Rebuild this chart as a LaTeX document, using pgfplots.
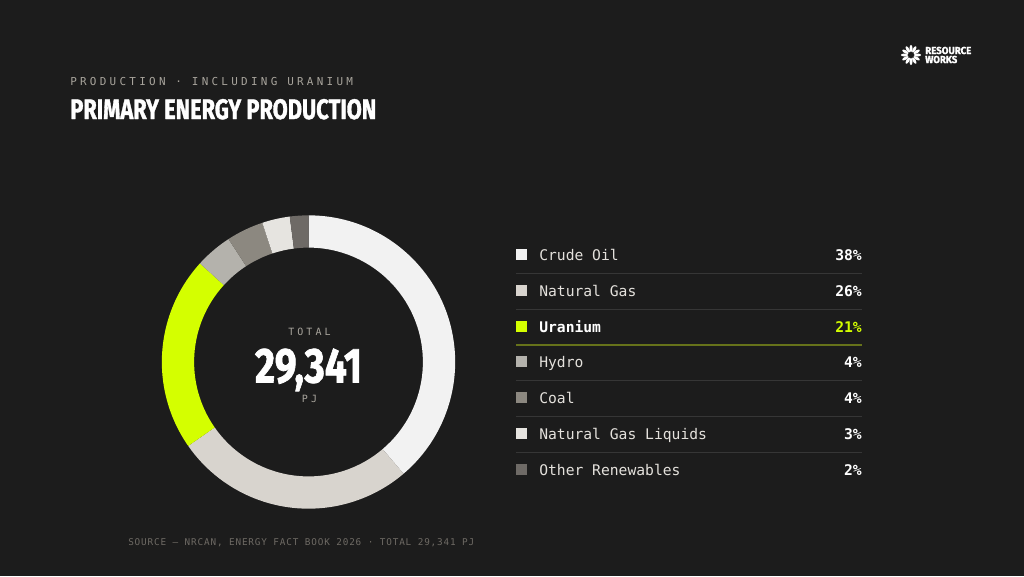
\documentclass[border=0pt]{standalone}
\usepackage{pgfplots}
\pgfplotsset{compat=1.18}
\usepackage{pgfplotstable}
\usepackage{fontspec}
\usepackage{graphicx}
\setmainfont{DejaVu Sans Mono}
\newfontfamily\monofont{DejaVu Sans Mono}
\newfontfamily\spacedmono[LetterSpace=30]{DejaVu Sans Mono}
\newfontfamily\srcmono[LetterSpace=9]{DejaVu Sans Mono}
\newfontfamily\condfont[FakeBold=1.5]{Fira Sans}

\definecolor{bg}{HTML}{1C1C1C}
\definecolor{c0}{HTML}{F2F2F2}
\definecolor{c1}{HTML}{D8D4CE}
\definecolor{c2}{HTML}{D4FF00}
\definecolor{c3}{HTML}{B4B2AC}
\definecolor{c4}{HTML}{8C8880}
\definecolor{c5}{HTML}{E6E4E0}
\definecolor{c6}{HTML}{6E6A66}
\definecolor{subgray}{HTML}{A8A49C}
\definecolor{srcgray}{HTML}{6E6A64}
\definecolor{labgray}{HTML}{E4E1DC}
\definecolor{sepgray}{HTML}{363636}
\definecolor{sepolive}{HTML}{66721A}

\pgfplotstableread{
label value
CrudeOil 38
NaturalGas 26
Uranium 21
Hydro 4
Coal 4
NGL 3
Other 2
}\energydata

\begin{document}
\begin{tikzpicture}[x=0.75pt,y=-0.75pt]
\fill[bg] (0,0) rectangle (1024,576);

% header
\node[anchor=base west, inner sep=0, text=subgray, font=\spacedmono\fontsize{8.2pt}{10pt}\selectfont] at (70,85.5) {PRODUCTION · INCLUDING URANIUM};
\node[anchor=base west, inner sep=0, text=white] at (70,119) {\resizebox{229.5pt}{15pt}{\condfont\bfseries PRIMARY ENERGY PRODUCTION}};

% logo
\foreach \a in {0,30,...,330}{
  \fill[white, rotate around={\a:(911,55)}] (911,48.5) ellipse (1.5 and 3.6);
}
\fill[bg] (911,55) circle (2.2);
\node[anchor=base west, inner sep=0, text=white] at (925,54) {\resizebox{34.5pt}{5.4pt}{\condfont\bfseries RESOURCE}};
\node[anchor=base west, inner sep=0, text=white] at (925,63) {\resizebox{24pt}{5.4pt}{\condfont\bfseries WORKS}};

% donut
\begin{axis}[at={(231.375pt,-271.5pt)}, anchor=center, width=220pt, height=220pt, scale only axis,
  xmin=-1, xmax=1, ymin=-1, ymax=1, hide axis, clip=false]
  \pgfmathsetmacro\total{0}
  \pgfplotsforeachungrouped \i in {0,...,6}{
    \pgfplotstablegetelem{\i}{value}\of\energydata
    \pgfmathsetmacro\total{\total+\pgfplotsretval}
  }
  \pgfmathsetmacro\cum{0}
  \pgfplotsforeachungrouped \i in {0,...,6}{
    \pgfplotstablegetelem{\i}{value}\of\energydata
    \pgfmathsetmacro\aS{90-\cum/\total*360}
    \pgfmathsetmacro\cum{\cum+\pgfplotsretval}
    \pgfmathsetmacro\aE{90-\cum/\total*360}
    \pgfmathsetmacro\xa{cos(\aS)}
    \pgfmathsetmacro\ya{sin(\aS)}
    \pgfmathsetmacro\xb{0.78*cos(\aE)}
    \pgfmathsetmacro\yb{0.78*sin(\aE)}
    \edef\temp{\noexpand\fill[c\i] (axis cs:\xa,\ya) arc[start angle=\aS, end angle=\aE, radius=1] -- (axis cs:\xb,\yb) arc[start angle=\aE, end angle=\aS, radius=0.78] -- cycle;}
    \temp
  }
\end{axis}

% center text
\node[anchor=base, inner sep=0, text=subgray, font=\spacedmono\fontsize{7.5pt}{9pt}\selectfont] at (309.5,335) {TOTAL};
\node[anchor=base, inner sep=0, text=white] at (308.5,382.5) {\raisebox{0pt}[\height][0pt]{\resizebox{80.25pt}{25.5pt}{\condfont\bfseries 29,341}}};
\node[anchor=base, inner sep=0, text=subgray, font=\spacedmono\fontsize{7.5pt}{9pt}\selectfont] at (309.5,402.5) {PJ};

% legend
\foreach \y/\c/\lab/\pct [count=\k] in {255/c0/Crude Oil/38\%, 291/c1/Natural Gas/26\%, 327/c2/Uranium/21\%, 362/c3/Hydro/4\%, 398/c4/Coal/4\%, 434/c5/Natural Gas Liquids/3\%, 470/c6/Other Renewables/2\%}{
  \fill[\c] (516,\y-6) rectangle (527,\y+5);
  \ifnum\k=3
    \node[anchor=base west, inner sep=0, text=white, font=\monofont\bfseries\fontsize{11pt}{13pt}\selectfont] at (539,\y+5.5) {\lab};
    \node[anchor=base east, inner sep=0, text=c2, font=\monofont\bfseries\fontsize{11pt}{13pt}\selectfont] at (862,\y+5.5) {\pct};
  \else
    \node[anchor=base west, inner sep=0, text=labgray, font=\monofont\fontsize{11pt}{13pt}\selectfont] at (539,\y+5.5) {\lab};
    \node[anchor=base east, inner sep=0, text=white, font=\monofont\bfseries\fontsize{11pt}{13pt}\selectfont] at (862,\y+5.5) {\pct};
  \fi
}
\foreach \y in {273,309,380,416,452}{
  \draw[sepgray, line width=0.75pt] (516,\y) -- (862,\y);
}
\draw[sepolive, line width=0.9pt] (516,345) -- (862,345);

% source
\node[anchor=base west, inner sep=0, text=srcgray, font=\srcmono\fontsize{7pt}{9pt}\selectfont] at (128,545) {SOURCE — NRCAN, ENERGY FACT BOOK 2026 · TOTAL 29,341 PJ};
\end{tikzpicture}
\end{document}
